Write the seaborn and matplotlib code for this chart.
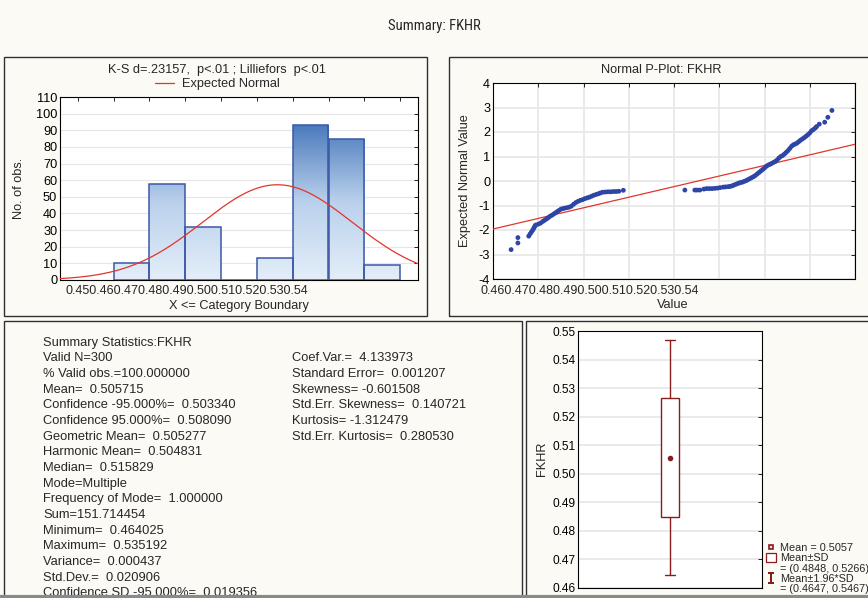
import numpy as np
import pandas as pd
import matplotlib
matplotlib.use("Agg")
import matplotlib.pyplot as plt
import seaborn as sns
from matplotlib.patches import Rectangle, Patch
from matplotlib.lines import Line2D
from matplotlib.colors import LinearSegmentedColormap

# ---------------- data read from the summary sheet ----------------
# histogram: upper category boundary (X <= boundary) and counts
bin_upper = [0.47, 0.48, 0.49, 0.50, 0.51, 0.52, 0.53, 0.54]
bin_counts = [10, 58, 32, 0, 13, 93, 85, 9]
bin_width = 0.01
hist_ticks = [0.45, 0.46, 0.47, 0.48, 0.49, 0.50, 0.51, 0.52, 0.53, 0.54]
pplot_ticks = [0.46, 0.47, 0.48, 0.49, 0.50, 0.51, 0.52, 0.53, 0.54]

n_valid = 300
mean_val = 0.505715
sd_val = 0.020906

# normal probability plot (value vs expected normal value)
pp_value = [
    0.4640, 0.4655, 0.4655, 0.4679, 0.4682, 0.4685, 0.4688, 0.4690, 0.4692, 0.4694,
    0.4700, 0.4705, 0.4710, 0.4714, 0.4718, 0.4722, 0.4726, 0.4730, 0.4734, 0.4738,
    0.4742, 0.4746, 0.4750, 0.4754, 0.4758, 0.4763, 0.4768, 0.4773, 0.4778, 0.4783,
    0.4788, 0.4793, 0.4798, 0.4803, 0.4808, 0.4813, 0.4818, 0.4823, 0.4828, 0.4833,
    0.4837, 0.4842, 0.4848, 0.4854, 0.4860, 0.4866, 0.4872, 0.4878, 0.4888,
    0.5024, 0.5046, 0.5051, 0.5057, 0.5066, 0.5072, 0.5078, 0.5084, 0.5090, 0.5096,
    0.5102, 0.5109, 0.5114, 0.5120, 0.5124, 0.5128, 0.5132, 0.5136, 0.5140, 0.5144,
    0.5148, 0.5152, 0.5156, 0.5160, 0.5164, 0.5168, 0.5172, 0.5176, 0.5180, 0.5184,
    0.5188, 0.5192, 0.5196, 0.5200, 0.5204, 0.5208, 0.5212, 0.5216, 0.5220, 0.5224,
    0.5228, 0.5232, 0.5236, 0.5240, 0.5244, 0.5248, 0.5252, 0.5256, 0.5260, 0.5264,
    0.5268, 0.5272, 0.5276, 0.5280, 0.5284, 0.5288, 0.5292, 0.5296, 0.5300, 0.5304,
    0.5308, 0.5312, 0.5315, 0.5321, 0.5333, 0.5340, 0.5349,
]
pp_expected = [
    -2.80, -2.31, -2.53, -2.25, -2.16, -2.08, -2.00, -1.93, -1.86, -1.80,
    -1.76, -1.72, -1.65, -1.60, -1.55, -1.50, -1.44, -1.40, -1.35, -1.30,
    -1.25, -1.20, -1.15, -1.13, -1.11, -1.09, -1.07, -1.03, -0.95, -0.88,
    -0.83, -0.79, -0.76, -0.72, -0.69, -0.66, -0.62, -0.58, -0.55, -0.52,
    -0.49, -0.46, -0.45, -0.44, -0.44, -0.43, -0.43, -0.42, -0.38,
    -0.37, -0.37, -0.37, -0.37, -0.33, -0.31, -0.31, -0.31, -0.30, -0.29,
    -0.27, -0.25, -0.24, -0.23, -0.22, -0.20, -0.17, -0.14, -0.11, -0.08,
    -0.06, -0.04, -0.01, 0.02, 0.06, 0.10, 0.14, 0.18, 0.23, 0.29,
    0.35, 0.41, 0.47, 0.53, 0.60, 0.65, 0.68, 0.72, 0.76, 0.80,
    0.86, 0.94, 1.00, 1.04, 1.10, 1.17, 1.24, 1.33, 1.42, 1.48,
    1.51, 1.55, 1.61, 1.67, 1.72, 1.77, 1.83, 1.89, 1.96, 2.05,
    2.10, 2.16, 2.22, 2.32, 2.40, 2.60, 2.88,
]
fit_value = [0.46, 0.54]
fit_expected = [-1.96, 1.50]

# box: mean, mean +- SD, mean +- 1.96*SD
box_mean = 0.5057
box_sd = (0.4848, 0.5266)
box_ci = (0.4647, 0.5467)

stats_left = [
    "Summary Statistics:FKHR",
    "Valid N=300",
    "% Valid obs.=100.000000",
    "Mean=  0.505715",
    "Confidence -95.000%=  0.503340",
    "Confidence 95.000%=  0.508090",
    "Geometric Mean=  0.505277",
    "Harmonic Mean=  0.504831",
    "Median=  0.515829",
    "Mode=Multiple",
    "Frequency of Mode=  1.000000",
    "Sum=151.714454",
    "Minimum=  0.464025",
    "Maximum=  0.535192",
    "Variance=  0.000437",
    "Std.Dev.=  0.020906",
    "Confidence SD -95.000%=  0.019356",
]
stats_right = [
    "Coef.Var.=  4.133973",
    "Standard Error=  0.001207",
    "Skewness= -0.601508",
    "Std.Err. Skewness=  0.140721",
    "Kurtosis= -1.312479",
    "Std.Err. Kurtosis=  0.280530",
]

# ---------------- figure setup ----------------
sns.set_theme(style="white")
plt.rcParams["font.family"] = ["Liberation Sans", "DejaVu Sans"]
plt.rcParams["axes.unicode_minus"] = False

W, H = 868, 598
BG = "#fbfaf5"
DARKRED = "#8b1c1c"
FS = 9.2


def fx(px):
    return px / W


def fy(py):
    return 1 - py / H


def axes_px(l, t, r, b):
    return fig.add_axes([fx(l), fy(b), (r - l) / W, (b - t) / H])


fig = plt.figure(figsize=(W / 100, H / 100), dpi=100, facecolor=BG)

# panel frames
for (l, t, r, b) in [(4, 57, 427, 316), (449, 57, 872, 316), (4, 321, 522, 602), (526, 321, 872, 602)]:
    fig.add_artist(Rectangle((fx(l), fy(b)), (r - l) / W, (b - t) / H, transform=fig.transFigure,
                             fill=False, ec="#303030", lw=1.0, zorder=3))
fig.add_artist(Line2D([0, 1], [fy(597), fy(597)], transform=fig.transFigure, color="#8a8a8a", lw=3, zorder=6))

fig.text(fx(434), fy(26), "Summary: FKHR", ha="center", va="center", fontsize=10.5,
         family=["Liberation Sans Narrow", "Roboto Condensed", "Liberation Sans", "DejaVu Sans"])


def style_axes(ax, size=FS):
    ax.set_facecolor("white")
    for s in ax.spines.values():
        s.set_color("black")
        s.set_linewidth(0.8)
    ax.tick_params(direction="in", length=3, width=0.6, top=True, right=True,
                   labelsize=size, colors="black", pad=2)


# ---------------- histogram ----------------
ax1 = axes_px(60, 97, 418, 280)
style_axes(ax1)
edges = [bin_upper[0] - bin_width] + bin_upper
mids = [u - bin_width / 2 for u in bin_upper]
sns.histplot(x=mids, weights=bin_counts, bins=edges, ax=ax1, color="none",
             edgecolor="#3a58a8", linewidth=1.1, alpha=1, zorder=3)
cmap = LinearSegmentedColormap.from_list("bars", ["#e4eef9", "#b9d0ec", "#4677ba"])
grad = np.linspace(0, 1, 256).reshape(-1, 1)
for p in list(ax1.patches):
    p.set_facecolor("none")
    im = ax1.imshow(grad, extent=[0.445, 0.545, 0, 95], origin="lower", aspect="auto",
                    cmap=cmap, zorder=2)
    im.set_clip_path(p)

xs = np.linspace(0.445, 0.545, 300)
ys = n_valid * bin_width * np.exp(-0.5 * ((xs - mean_val) / sd_val) ** 2) / (sd_val * np.sqrt(2 * np.pi))
sns.lineplot(x=xs, y=ys, color="#e2352b", lw=0.9, ax=ax1, label="Expected Normal", zorder=4)

ax1.set_xlim(0.445, 0.545)
ax1.set_ylim(0, 110)
ax1.set_yticks(range(0, 111, 10))
ax1.set_xticks(hist_ticks)
ax1.set_xticklabels([])
ax1.yaxis.grid(True, color="#e6e6e6", lw=0.8)
ax1.set_axisbelow(True)
ax1.set_xlabel("")
ax1.set_ylabel("")
ax1.legend(loc="center", bbox_to_anchor=(fx(217), fy(84)), bbox_transform=fig.transFigure,
           frameon=False, fontsize=FS, handlelength=1.5, handletextpad=0.6, borderpad=0)
fig.text(fx(217), fy(70), "K-S d=.23157,  p<.01 ; Lilliefors  p<.01", ha="center", va="center", fontsize=FS)
fig.text(fx(65), fy(290.5), "".join(f"{v:.2f}" for v in hist_ticks), ha="left", va="center", fontsize=9)
fig.text(fx(239), fy(306), "X <= Category Boundary", ha="center", va="center", fontsize=FS)
fig.text(fx(19), fy(188), "No. of obs.", ha="center", va="center", fontsize=FS, rotation=90)

# ---------------- normal probability plot ----------------
ax2 = axes_px(493, 83, 855, 279)
style_axes(ax2)
sns.lineplot(x=fit_value, y=fit_expected, color="#e2352b", lw=0.9, ax=ax2, zorder=3)
sns.scatterplot(x=pp_value, y=pp_expected, s=12, color="#2d45a5", edgecolor="none", ax=ax2, zorder=4)
ax2.set_xlim(0.46, 0.54)
ax2.set_ylim(-4, 4)
ax2.set_xticks(pplot_ticks)
ax2.set_xticklabels([])
ax2.set_yticks(range(-4, 5))
ax2.grid(True, color="#e6e6e6", lw=1.2)
ax2.set_axisbelow(True)
ax2.set_xlabel("")
ax2.set_ylabel("")
fig.text(fx(661), fy(70), "Normal P-Plot: FKHR", ha="center", va="center", fontsize=FS)
fig.text(fx(480), fy(291), "".join(f"{v:.2f}" for v in pplot_ticks), ha="left", va="center", fontsize=9)
fig.text(fx(673), fy(305), "Value", ha="center", va="center", fontsize=FS)
fig.text(fx(465), fy(181), "Expected Normal Value", ha="center", va="center", fontsize=FS, rotation=90)

# ---------------- summary statistics text ----------------
for i, line in enumerate(stats_left):
    fig.text(fx(43), fy(342.7 + i * 15.66), line, ha="left", va="center", fontsize=9.3, zorder=2)
for i, line in enumerate(stats_right):
    fig.text(fx(292), fy(342.7 + (i + 1) * 15.66), line, ha="left", va="center", fontsize=9.3, zorder=2)

# ---------------- box plot ----------------
ax3 = axes_px(578, 331, 762, 588)
style_axes(ax3, size=8.6)
box_stats = [dict(med=box_mean, mean=box_mean, q1=box_sd[0], q3=box_sd[1],
                  whislo=box_ci[0], whishi=box_ci[1], fliers=[])]
ax3.bxp(box_stats, positions=[0], widths=0.1, capwidths=0.05, showmeans=True,
        showfliers=False, patch_artist=True,
        boxprops=dict(facecolor="white", edgecolor=DARKRED, lw=1),
        whiskerprops=dict(color=DARKRED, lw=1),
        capprops=dict(color=DARKRED, lw=1),
        medianprops=dict(lw=0),
        meanprops=dict(marker="o", markersize=3, markerfacecolor=DARKRED, markeredgecolor=DARKRED))
ax3.set_xlim(-0.5, 0.5)
ax3.set_ylim(0.46, 0.55)
ax3.set_yticks(np.arange(0.46, 0.5501, 0.01))
ax3.yaxis.set_major_formatter(matplotlib.ticker.FormatStrFormatter("%.2f"))
ax3.set_xticks([])
ax3.tick_params(axis="x", top=False, bottom=False)
ax3.yaxis.grid(True, color="#e6e6e6", lw=1.2)
ax3.set_axisbelow(True)
fig.text(fx(542), fy(459), "FKHR", ha="center", va="center", fontsize=FS, rotation=90)

handles = [
    Line2D([], [], ls="", marker="s", markersize=3.5, markerfacecolor="#f3d6d6", markeredgecolor=DARKRED, markeredgewidth=1.2),
    Patch(facecolor="white", edgecolor=DARKRED, lw=0.9),
    Line2D([], [], ls=""),
    Line2D([], [], ls="", marker=r"$\mathtt{I}$", markersize=8, markeredgewidth=0, color=DARKRED),
    Line2D([], [], ls=""),
]
labels = [
    f"Mean = {box_mean:.4f}",
    "Mean\u00b1SD",
    f"= ({box_sd[0]:.4f}, {box_sd[1]:.4f})",
    "Mean\u00b11.96*SD",
    f"= ({box_ci[0]:.4f}, {box_ci[1]:.4f})",
]
fig.legend(handles, labels, loc="lower left", bbox_to_anchor=(fx(766), fy(594)),
           bbox_transform=fig.transFigure, frameon=False, fontsize=7.8, labelspacing=0.0,
           handlelength=0.9, handleheight=0.9, handletextpad=0.4, borderpad=0, borderaxespad=0)

fig.savefig("out.png", dpi=100, facecolor=BG)
